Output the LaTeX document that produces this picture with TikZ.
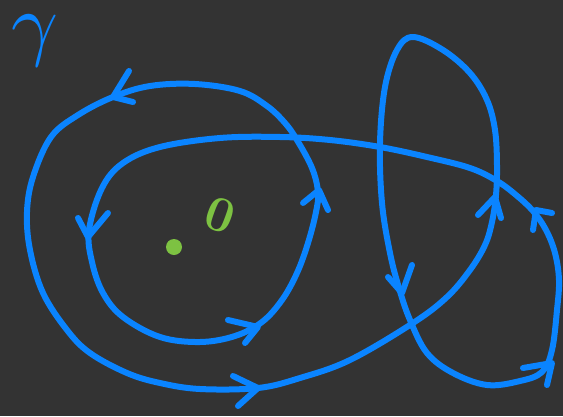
\documentclass[tikz,border=0pt]{standalone}
\definecolor{bgdark}{HTML}{333333}
\definecolor{curveblue}{HTML}{0A84FF}
\definecolor{zerogreen}{HTML}{7DC242}
\begin{document}
\begin{tikzpicture}[x=1pt,y=-1pt,line join=round,line cap=round,line width=6pt]
				\fill[bgdark] (0,0) rectangle (563,416);
				\useasboundingbox (0,0) rectangle (563,416);
				% the closed curve gamma
				\draw[curveblue] plot[smooth cycle,tension=0.6] coordinates {
					(533,211) (516,195) (497,181) (470,168) (427,157) (380,147) (330,140) (280,137) (220,138) (160,147) (123,163) (102,188) (89,230) (92,262) (103,293) (123,317) (160,337) (200,342) (235,336) (262,322) (282,300) (297,273) (308,243) (316,212) (318,192) (312,168) (297,140) (285,123) (267,106) (240,91) (195,84) (150,86) (113,97) (78,115) (51,137) (33,177) (27,212) (30,250) (43,293) (67,330) (90,353) (127,373) (160,383) (200,389) (258,388) (300,378) (350,360) (413,323) (447,297) (470,270) (485,245) (492,222) (496,195) (497,165) (495,130) (487,100) (470,73) (443,50) (413,37) (397,50) (385,87) (380,143) (382,203) (390,253) (399,288) (410,320) (427,353) (453,373) (487,385) (520,381) (542,372) (552,350) (557,310) (559,280) (555,253) (546,230)};
				% arrow heads
				\coordinate (tipA) at (113,97);
				\coordinate (tipB) at (88,237);
				\coordinate (tipC) at (258,327);
				\coordinate (tipD) at (319,190);
				\coordinate (tipE) at (258,388);
				\coordinate (tipF) at (495,197);
				\coordinate (tipG) at (402,293);
				\coordinate (tipH) at (552,363);
				\coordinate (tipI) at (536,210);
				\draw[curveblue] (129,71) -- (tipA) -- (133,102);
				\draw[curveblue] (78,218) -- (tipB) -- (108,213);
				\draw[curveblue] (228,320) -- (tipC) -- (245,343);
				\draw[curveblue] (303,203) -- (tipD) -- (328,210);
				\draw[curveblue] (233,376) -- (tipE) -- (238,406);
				\draw[curveblue] (478,215) -- (tipF) -- (501,218);
				\draw[curveblue] (388,277) -- (tipG) -- (412,265);
				\draw[curveblue] (523,368) -- (tipH) -- (547,385);
				\draw[curveblue] (552,213) -- (tipI) -- (533,230);
				% labels
				\node[curveblue,scale=8.2,inner sep=1pt] (gam) at (35,41) {$\gamma$};
				\node[zerogreen,rotate=-20,font=\fontsize{50}{50}\selectfont\bfseries] (zero) at (220,215) {0};
				\fill[zerogreen] (174,247) circle (8pt);
		\end{tikzpicture}
\end{document}
